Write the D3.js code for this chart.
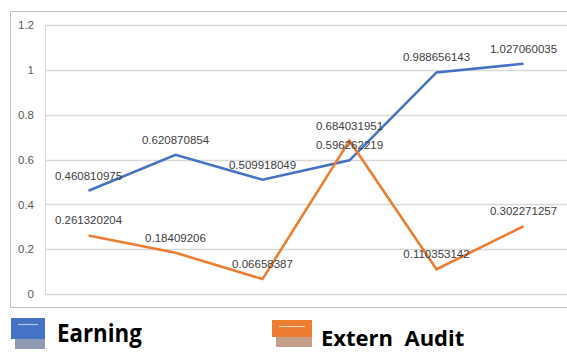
<!DOCTYPE html>
<html>
<head>
<meta charset="utf-8">
<script src="https://cdn.jsdelivr.net/npm/d3@7"></script>
<style>
  body { margin: 0; background: #fff; }
  svg { display: block; }
</style>
</head>
<body>
<div id="viz"></div>
<script>
var categories = ["1", "2", "3", "4", "5", "6"];
var earning = [0.460810975, 0.620870854, 0.509918049, 0.596262219, 0.988656143, 1.027060035];
var audit = [0.261320204, 0.18409206, 0.06658387, 0.684031951, 0.110353142, 0.302271257];
var yTicks = [0, 0.2, 0.4, 0.6, 0.8, 1, 1.2];

var W = 567, H = 352;
var margin = {top: 25, left: 45, bottom: 58};

var svg = d3.select("#viz").append("svg")
    .attr("width", W)
    .attr("height", H);

// outer chart border
svg.append("rect")
    .attr("x", 10.5).attr("y", 11.5)
    .attr("width", 600).attr("height", 296)
    .attr("fill", "none")
    .attr("stroke", "#bfbfbf");

var x = d3.scaleBand().domain(categories).range([margin.left, W]);
var y = d3.scaleLinear().domain([0, 1.2]).range([294, 25]);

// gridlines
svg.append("g").selectAll("line")
    .data(yTicks)
  .enter().append("line")
    .attr("x1", margin.left).attr("x2", W + 20)
    .attr("y1", function(d) { return Math.round(y(d)) + 0.5; })
    .attr("y2", function(d) { return Math.round(y(d)) + 0.5; })
    .attr("stroke", "#d9d9d9")
    .attr("stroke-width", 1.3);

// y axis line
svg.append("line")
    .attr("x1", margin.left + 0.5).attr("x2", margin.left + 0.5)
    .attr("y1", y(1.2)).attr("y2", y(0))
    .attr("stroke", "#d9d9d9");

var yAxis = d3.axisLeft(y).tickValues(yTicks).tickSize(0).tickPadding(11)
    .tickFormat(function(d) { return String(d); });
var ya = svg.append("g")
    .attr("transform", "translate(" + margin.left + ",0)")
    .call(yAxis);
ya.select(".domain").remove();
ya.selectAll("text")
    .style("font-family", "Liberation Sans, Arial, sans-serif")
    .style("font-size", "11.5px")
    .attr("fill", "#595959");

function cx(i) { return x(categories[i]) + x.bandwidth() / 2; }

var line = d3.line()
    .x(function(d, i) { return cx(i); })
    .y(function(d) { return y(d); });

var series = [
  {name: "Earning", values: earning, color: "#4472c4"},
  {name: "Audit", values: audit, color: "#ed7d31"}
];

series.forEach(function(s) {
  svg.append("path")
      .datum(s.values)
      .attr("d", line)
      .attr("fill", "none")
      .attr("stroke", s.color)
      .attr("stroke-width", 2.6)
      .attr("stroke-linejoin", "miter");
});

// data labels
series.forEach(function(s) {
  svg.append("g").selectAll("text")
      .data(s.values)
    .enter().append("text")
      .attr("x", function(d, i) { return cx(i); })
      .attr("y", function(d) { return y(d) - 11; })
      .attr("text-anchor", "middle")
      .style("font-family", "Liberation Sans, Arial, sans-serif")
      .style("font-size", "11.5px")
      .attr("fill", "#404040")
      .text(function(d) { return String(d); });
});

// legend
function legendIcon(g, x0, y0, w, h, color, shadow, hi) {
  g.append("rect").attr("x", x0 + 4).attr("y", y0 + 14)
      .attr("width", w - 4).attr("height", h - 5).attr("fill", shadow);
  g.append("rect").attr("x", x0).attr("y", y0)
      .attr("width", w).attr("height", h - 1).attr("fill", color);
  g.append("line").attr("x1", x0 + 7).attr("x2", x0 + w - 7)
      .attr("y1", y0 + 6.5).attr("y2", y0 + 6.5)
      .attr("stroke", hi).attr("stroke-width", 1.2);
}

var leg = svg.append("g");
legendIcon(leg, 11, 318, 34, 22, "#4472c4", "#8f9bb4", "#b4c7ec");
leg.append("text")
    .attr("transform", "translate(57,342) scale(0.97,1.12)")
    .style("font-family", "Open Sans, sans-serif")
    .style("font-weight", "700")
    .style("font-size", "23px")
    .attr("fill", "#000")
    .text("Earning");

legendIcon(leg, 272, 320, 40, 18, "#ed7d31", "#c4a08a", "#fbd3b6");
leg.append("text")
    .attr("x", 321).attr("y", 346)
    .style("font-family", "Open Sans, sans-serif")
    .style("font-weight", "700")
    .style("font-size", "22px")
    .style("white-space", "pre")
    .attr("fill", "#000")
    .text("Extern  Audit");
</script>
</body>
</html>
